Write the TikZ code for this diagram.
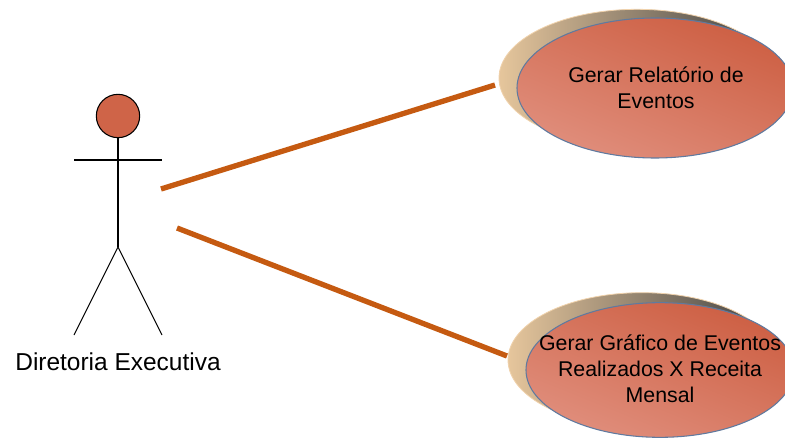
\documentclass[tikz,border=0pt]{standalone}
\usepackage{fontspec}
\setmainfont{Liberation Sans}
\usepackage{tikz}
\usetikzlibrary{shapes.geometric}
\definecolor{linkorange}{HTML}{C55A11}
\definecolor{headred}{HTML}{CF6448}
\definecolor{caselight}{HTML}{E08E7C}
\definecolor{casemid}{HTML}{D2694E}
\definecolor{casedark}{HTML}{CD5F43}
\definecolor{caseborder}{HTML}{5F7A9F}
\definecolor{backtan}{HTML}{E6C69C}
\definecolor{backgrey}{HTML}{3C3E40}
\definecolor{backedge}{HTML}{F0D2AC}

\begin{document}
\begin{tikzpicture}[
    x=0.75pt,
    y=-0.75pt,
    usecase/.style={
        ellipse,
        draw=caseborder,
        line width=0.8pt,
        inner sep=0pt,
        left color=caselight,
        middle color=casemid,
        right color=casedark,
        shading angle=158
    },
    usecaseback/.style={
        ellipse,
        draw=backedge,
        line width=0.6pt,
        left color=backtan,
        right color=backgrey
    },
    casetext/.style={align=center, font=\fontsize{16}{19.5}\selectfont},
    limb/.style={black, line width=0.8pt},
    link/.style={linkorange, line width=4pt}
]
    \useasboundingbox (0,0) rectangle (785,438);

    % Actor
    \node[circle, draw=black, line width=0.8pt, fill=headred, minimum width=32.5pt, inner sep=0pt] (head) at (118,116) {};
    \coordinate (hip) at (118,247);
    \coordinate (armleft) at (74,160);
    \coordinate (armright) at (162,160);
    \coordinate (footleft) at (74,335);
    \coordinate (footright) at (162,335);
    \draw[limb] (head.south) -- (hip);
    \draw[limb] (armleft) -- (armright);
    \draw[limb] (footleft) -- (hip) -- (footright);
    \node[font=\fontsize{18.35}{22}\selectfont] (actorlabel) at (118,362) {Diretoria Executiva};

    % Top use case
    \node[usecaseback, minimum width=207pt, minimum height=103pt] (reportback) at (637,78) {};
    \node[usecase, minimum width=207pt, minimum height=105pt] (report) at (655,88) {};
    \node[casetext] (reporttext) at (656,88) {Gerar Relatório de\\Eventos};

    % Bottom use case
    \node[usecaseback, minimum width=201pt, minimum height=101pt] (chartback) at (642,360) {};
    \node[usecase, minimum width=201pt, minimum height=101pt] (chart) at (660,370) {};
    \node[casetext] (charttext) at (660,369) {Gerar Gráfico de Eventos\\Realizados X Receita\\Mensal};

    % Connectors
    \coordinate (linkstarttop) at (161,189);
    \coordinate (linkendtop) at (495,85);
    \coordinate (linkstartbottom) at (177,228);
    \coordinate (linkendbottom) at (507,356);
    \draw[link] (linkstarttop) -- (linkendtop);
    \draw[link] (linkstartbottom) -- (linkendbottom);
\end{tikzpicture}
\end{document}
